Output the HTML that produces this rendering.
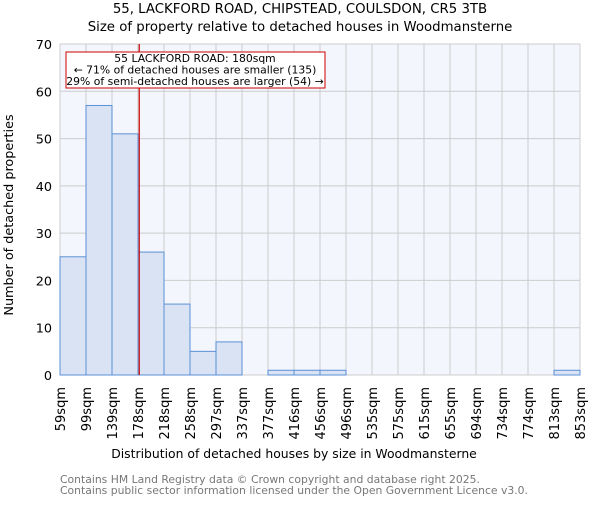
<!DOCTYPE html>
<html><head><meta charset="utf-8"><style>
body{margin:0;background:#fff;}
svg text{font-family:"DejaVu Sans","Liberation Sans",sans-serif;}
</style></head><body>
<svg id="c" width="600" height="500" xmlns="http://www.w3.org/2000/svg">
<text x="300" y="13" text-anchor="middle" font-size="13.3">55, LACKFORD ROAD, CHIPSTEAD, COULSDON, CR5 3TB</text>
<text x="300" y="31" text-anchor="middle" font-size="13.3">Size of property relative to detached houses in Woodmansterne</text>
<rect x="60" y="44" width="520" height="331" fill="#f3f6fd"/>
<g id="grid"></g><g id="bars"></g><g id="axes"></g>
<text x="294" y="458" text-anchor="middle" font-size="12.4">Distribution of detached houses by size in Woodmansterne</text>
<text transform="translate(13,215) rotate(-90)" text-anchor="middle" font-size="12.8">Number of detached properties</text>
<text x="60" y="483" font-size="10.8" fill="#777">Contains HM Land Registry data © Crown copyright and database right 2025.</text>
<text x="60" y="494" font-size="10.8" fill="#777">Contains public sector information licensed under the Open Government Licence v3.0.</text>
</svg>
<script>
const binLabels=["59sqm","99sqm","139sqm","178sqm","218sqm","258sqm","297sqm","337sqm","377sqm","416sqm","456sqm","496sqm","535sqm","575sqm","615sqm","655sqm","694sqm","734sqm","774sqm","813sqm","853sqm"];
const binEdges=[59,99,139,178,218,258,297,337,377,416,456,496,535,575,615,655,694,734,774,813,853];
const counts=[25,57,51,26,15,5,7,0,1,1,1,0,0,0,0,0,0,0,0,1];
const yTicks=[0,10,20,30,40,50,60,70];
const propertySize=180;
const X0=60,X1=580,Y0=375,Y1=44,YMAX=70;
const NS="http://www.w3.org/2000/svg";
const xb=i=>X0+i*(X1-X0)/(binEdges.length-1);
const xv=v=>X0+(v-binEdges[0])/(binEdges[binEdges.length-1]-binEdges[0])*(X1-X0);
const y=v=>Y0-v/YMAX*(Y0-Y1);
function mk(tag,attrs,parent){const e=document.createElementNS(NS,tag);for(const k in attrs)e.setAttribute(k,attrs[k]);document.getElementById(parent).appendChild(e);return e;}
yTicks.forEach(t=>{
 const l=mk('line',{x1:X0,x2:X1,y1:y(t),y2:y(t),stroke:'#ccc','stroke-width':1},'grid');
 
 
 const tx=mk('text',{x:X0-8,y:y(t)+5,'text-anchor':'end','font-size':12.8},'axes');
 tx.textContent=t;
 
 
});
binLabels.forEach((lab,i)=>{
 const l=mk('line',{x1:xb(i),x2:xb(i),y1:Y1,y2:Y0,stroke:'#ccc','stroke-width':1},'grid');
 
 
 const tx=mk('text',{transform:`translate(${xb(i)+5},${Y0+12}) rotate(-90)`,'text-anchor':'end','font-size':13},'axes');
 tx.textContent=lab;
 
 
});
counts.forEach((c,i)=>{
 const r=mk('rect',{x:xb(i),y:y(c),width:xb(i+1)-xb(i),height:Y0-y(c),fill:'#dae3f3',stroke:'#5b8fd6','stroke-width':1},'bars');
 
 
});
const ml=mk('line',{x1:xv(propertySize),x2:xv(propertySize),y1:Y1,y2:Y0,stroke:'#cc0000','stroke-width':1.2},'axes');


const box=mk('rect',{x:66,y:52,width:259,height:36,fill:'#fff',stroke:'#cc0000','stroke-width':1},'axes');


["55 LACKFORD ROAD: 180sqm","← 71% of detached houses are smaller (135)","29% of semi-detached houses are larger (54) →"].forEach((s,i)=>{
 const t=mk('text',{x:195,y:62+i*11.5,'text-anchor':'middle','font-size':10.8},'axes');
 t.textContent=s;
 
 
});
</script>
</body></html>
